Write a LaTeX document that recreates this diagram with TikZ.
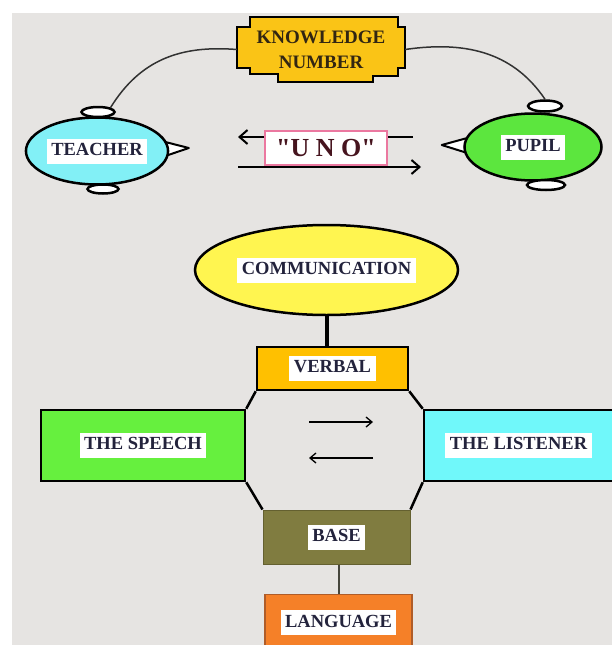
\documentclass[tikz,border=0pt]{standalone}
\usepackage{fontspec}
\setmainfont{Liberation Serif}
\usetikzlibrary{arrows.meta,positioning,shapes.geometric,calc,backgrounds}
\definecolor{paper}{RGB}{230,228,226}
\definecolor{ink}{RGB}{35,35,60}
\definecolor{gold}{RGB}{250,196,22}
\definecolor{skyfill}{RGB}{130,240,246}
\definecolor{leaf}{RGB}{92,230,62}
\definecolor{lemon}{RGB}{255,245,80}
\definecolor{amber}{RGB}{255,192,0}
\definecolor{grass}{RGB}{102,240,62}
\definecolor{aqua}{RGB}{112,248,250}
\definecolor{olive}{RGB}{128,124,64}
\definecolor{oliveline}{RGB}{100,96,48}
\definecolor{tangerine}{RGB}{245,128,40}
\definecolor{rust}{RGB}{175,92,40}
\definecolor{rosy}{RGB}{235,120,160}
\definecolor{maroon}{RGB}{70,20,30}
\newcommand{\whitelabel}[1]{{\setlength{\fboxsep}{1.5pt}\colorbox{white}{\hspace{3pt}\strut #1\hspace{3pt}}}}
\tikzset{
 tagfont/.style={font=\bfseries\fontsize{18.5}{22}\selectfont,text=ink},
 oval/.style={ellipse,draw,line width=2.5pt,inner sep=0pt,tagfont},
 knob/.style={ellipse,draw,fill=white,line width=2.5pt,minimum width=33pt,
              minimum height=10pt,inner sep=0pt},
 box/.style={draw,line width=2.5pt,inner sep=0pt,tagfont},
 pointer/.style={draw,fill=white,line width=2pt,line join=round},
 wire/.style={line width=1.5pt,draw={rgb,255:red,50;green,50;blue,50}},
 frame/.style={line width=2.5pt},
 arrow/.style={-{Straight Barb[length=8pt,width=14pt]},line width=2pt},
 thinarrow/.style={-{Straight Barb[length=6pt,width=10pt]},line width=1.3pt}
}
\begin{document}
\begin{tikzpicture}[x=1pt,y=-1pt]
\useasboundingbox (0,0) rectangle (612,645);
\node[font=\bfseries\fontsize{19}{25}\selectfont,text={rgb,255:red,50;green,38;blue,18},
      align=center,minimum width=168pt,minimum height=65pt,inner sep=0pt] (know) at (321,49.5) {KNOWLEDGE\\NUMBER};
\node[oval,fill=skyfill,minimum width=141pt,minimum height=67pt] (teach) at (97,151) {\whitelabel{TEACHER}};
\node[oval,fill=leaf,minimum width=137pt,minimum height=67pt] (pupil) at (533,147) {\whitelabel{PUPIL}};
\node[knob] (ttop) at (98,112) {};
\node[knob,minimum width=31pt,minimum height=9pt] (tbot) at (103,189) {};
\node[knob,minimum width=34pt,minimum height=11pt] (ptop) at (545,106) {};
\node[knob,minimum width=38pt] (pbot) at (546,185) {};
\coordinate (sendL) at (238,137);
\coordinate (sendR) at (413,137);
\coordinate (backL) at (238,167);
\coordinate (backR) at (421,167);
\draw[arrow] (sendR) -- (sendL);
\draw[arrow] (backL) -- (backR);
\node[draw=rosy,line width=1.5pt,fill=white,minimum width=122pt,minimum height=34pt,inner sep=0pt,
      font=\bfseries\fontsize{26}{30}\selectfont,text=maroon] (uno) at (326,148)
      {\addfontfeatures{Ligatures=TeXOff}"U N O"};
\node[oval,fill=lemon,minimum width=263pt,minimum height=90pt] (comm) at (326.5,270) {\whitelabel{COMMUNICATION}};
\node[box,fill=amber,minimum width=151pt,minimum height=43pt] (verb) at (332.5,368.5) {\whitelabel{VERBAL}};
\node[box,fill=grass,minimum width=204pt,minimum height=71pt] (speech) at (143,445.5) {\whitelabel{THE SPEECH}};
\node[box,fill=aqua,minimum width=189pt,minimum height=71pt] (listen) at (518.5,445.5) {\whitelabel{THE LISTENER}};
\node[box,fill=olive,draw=oliveline,line width=1pt,minimum width=147pt,minimum height=54pt] (base) at (336.5,537) {\whitelabel{BASE}};
\node[box,fill=tangerine,draw=rust,line width=1.2pt,minimum width=147pt,minimum height=57pt,
      below=29pt of base.south -| {(338.5,0)},anchor=north] (lang) {\whitelabel{LANGUAGE}};
\draw[line width=4pt] (comm.south) -- (comm.south |- verb.north);
\draw[line width=2pt,draw={rgb,255:red,70;green,70;blue,60}] (lang.north |- base.south) -- (lang.north);
\draw[frame] (verb.south west) -- (speech.north east);
\draw[frame] (speech.south east) -- (base.north west);
\draw[frame] (verb.south east) -- (listen.north west);
\draw[frame] (listen.south west) -- (base.north east);
\coordinate (fwdL) at (309,422);
\coordinate (fwdR) at (373,422);
\coordinate (retL) at (309,458);
\coordinate (retR) at (373,458);
\draw[thinarrow] (fwdL) -- (fwdR);
\draw[thinarrow] (retR) -- (retL);
\begin{scope}[on background layer]
\fill[paper] (12,13) rectangle (612,645);
\draw[line width=2pt,fill=gold,shift={(know.north west)}] (13,0) -- (161,0) -- (161,10) -- (168,10)
  -- (168,51) -- (161,51) -- (161,59) -- (136,59) -- (136,65) -- (41,65) -- (41,57) -- (13,57)
  -- (13,51) -- (0,51) -- (0,10) -- (13,10) -- cycle;
\draw[wire] (ttop.north east) .. controls (140,60) and (180,45) .. (know.west);
\draw[wire] (know.east) .. controls (470,40) and (515,55) .. (ptop.north);
\draw[pointer] ($(teach.east)+(-4,-9)$) -- ($(teach.east)+(19.5,-3)$) -- ($(teach.east)+(-4,5)$) -- cycle;
\draw[pointer] ($(pupil.west)+(4,-9)$) -- ($(pupil.west)+(-21.5,-2)$) -- ($(pupil.west)+(4,6)$) -- cycle;
\end{scope}
\end{tikzpicture}
\end{document}
